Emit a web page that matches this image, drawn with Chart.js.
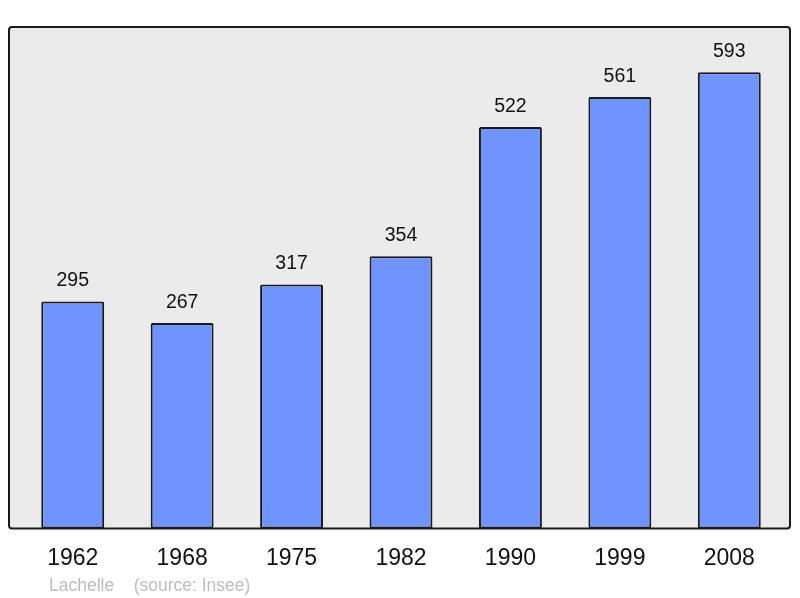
<!DOCTYPE html>
<html>
<head>
<meta charset="utf-8">
<script src="https://cdn.jsdelivr.net/npm/chart.js@4"></script>
<style>
  html, body { margin: 0; padding: 0; background: #fff; }
  #wrap { width: 800px; height: 598px; }
</style>
</head>
<body>
<div id="wrap"><canvas id="popChart" width="800" height="598"></canvas></div>
<script>
const years = ["1962", "1968", "1975", "1982", "1990", "1999", "2008"];
const population = [295, 267, 317, 354, 522, 561, 593];
const footerText = "Lachelle    (source: Insee)";

let ctx = document.getElementById("popChart").getContext("2d");

// gray panel + frame behind the bars
const panelPlugin = {
  id: "panel",
  beforeDraw: (chart) => {
    const c = chart.ctx;
    const a = chart.chartArea;
    const x = a.left - 9, y = a.top, w = a.right + 6 - x, h = a.bottom - a.top;
    c.save();
    c.beginPath();
    c.roundRect(x, y, w, h, 3);
    c.fillStyle = "#ebebeb";
    c.fill();
    c.restore();
  },
  afterDraw: (chart) => {
    const c = chart.ctx;
    const a = chart.chartArea;
    const x = a.left - 9, y = a.top, w = a.right + 6 - x, h = a.bottom - a.top;
    c.save();
    c.beginPath();
    c.roundRect(x, y, w, h, 3);
    c.lineWidth = 2;
    c.strokeStyle = "#1a1a1a";
    c.stroke();
    // footer
    c.font = "17.5px 'Liberation Sans', Arial, sans-serif";
    c.fillStyle = "#bcbcbc";
    c.textBaseline = "middle";
    c.textAlign = "left";
    c.fillText(footerText, 49, 586);
    c.restore();
  },
};

// value labels above each bar
const valueLabels = {
  id: "valueLabels",
  afterDatasetsDraw: (chart) => {
    const c = chart.ctx;
    const meta = chart.getDatasetMeta(0);
    c.save();
    c.font = "19.5px 'Liberation Sans', Arial, sans-serif";
    c.fillStyle = "#111";
    c.textAlign = "center";
    c.textBaseline = "middle";
    meta.data.forEach((bar, i) => {
      c.fillText(String(population[i]), bar.x, bar.y - 20.5);
    });
    c.restore();
  },
};

let popChart = new Chart(ctx, {
  type: "bar",
  data: {
    labels: years,
    datasets: [
      {
        data: population,
        backgroundColor: "#7094ff",
        borderColor: "#1a1a1a",
        borderWidth: 2,
        borderSkipped: false,
        borderRadius: 1.5,
        barPercentage: 0.575,
        categoryPercentage: 1,
      },
    ],
  },
  options: {
    responsive: false,
    animation: false,
    layout: {
      padding: { left: 18, right: 16, top: 27, bottom: 10 },
    },
    scales: {
      x: {
        grid: { display: false, drawTicks: false },
        border: { display: false },
        ticks: {
          padding: 16,
          color: "#111",
          font: { family: "'Liberation Sans', Arial, sans-serif", size: 23 },
        },
      },
      y: {
        display: false,
        min: 0,
        max: 652,
      },
    },
    plugins: {
      legend: { display: false },
      tooltip: { enabled: false },
    },
  },
  plugins: [panelPlugin, valueLabels],
});
</script>
</body>
</html>
